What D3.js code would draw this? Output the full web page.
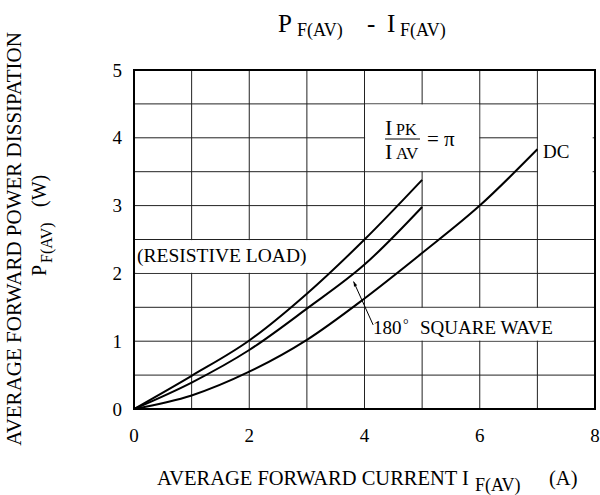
<!DOCTYPE html>
<html>
<head>
<meta charset="utf-8">
<script src="https://cdn.jsdelivr.net/npm/d3@7"></script>
<style>
  body { margin: 0; background: #fff; }
  text { font-family: "Liberation Serif", "Times New Roman", serif; fill: #000; }
</style>
</head>
<body>
<div id="chart"></div>
<script>
var currentPK = [0, 1, 2, 3, 4, 5];          // I_PK / I_AV = pi
var powerPK   = [0, 0.49, 1.01, 1.70, 2.50, 3.38];
var currentSQ = [0, 1, 2, 3, 4, 5];          // 180 deg square wave
var powerSQ   = [0, 0.39, 0.87, 1.48, 2.13, 2.98];
var currentDC = [0, 1, 2, 3, 4, 5, 6, 7];    // DC
var powerDC   = [0, 0.20, 0.55, 1.02, 1.63, 2.30, 3.00, 3.83];

var xTicks = [0, 2, 4, 6, 8];
var yTicks = [0, 1, 2, 3, 4, 5];

var width = 600, height = 495;

var x = d3.scaleLinear([0, 8], [134, 595]);
var y = d3.scaleLinear([0, 5], [409, 70]);

var svg = d3.select("#chart").append("svg")
    .attr("width", width)
    .attr("height", height);

// grille
svg.append("g")
  .selectAll("line")
  .data(d3.range(1, 8))
  .enter().append("line")
    .attr("x1", d => x(d)).attr("x2", d => x(d))
    .attr("y1", y(0)).attr("y2", y(5))
    .attr("stroke", "#222").attr("stroke-width", 1);

svg.append("g")
  .selectAll("line")
  .data(d3.range(0.5, 5, 0.5))
  .enter().append("line")
    .attr("x1", x(0)).attr("x2", x(8))
    .attr("y1", d => y(d)).attr("y2", d => y(d))
    .attr("stroke", "#222").attr("stroke-width", 1);

// zones blanches derriere les textes (coins en unites du graphe)
var boxes = [
  [0.03, 2.0, 4.0, 2.5],   // (RESISTIVE LOAD)
  [4.0, 3.5, 6.0, 4.5],    // I_PK / I_AV
  [7.0, 3.0, 7.97, 4.5],   // DC
  [4.0, 1.0, 7.97, 1.5]    // 180 SQUARE WAVE
];
svg.append("g")
  .selectAll("rect")
  .data(boxes)
  .enter().append("rect")
    .attr("x", d => x(d[0]) + 0.6)
    .attr("y", d => y(d[3]) + 0.6)
    .attr("width", d => x(d[2]) - x(d[0]) - 1.2)
    .attr("height", d => y(d[1]) - y(d[3]) - 1.2)
    .attr("fill", "#fff");

// cadre
svg.append("rect")
    .attr("x", x(0)).attr("y", y(5))
    .attr("width", x(8) - x(0)).attr("height", y(0) - y(5))
    .attr("fill", "none").attr("stroke", "#000").attr("stroke-width", 2);

// courbes
var line = d3.line()
    .x(d => x(d[0]))
    .y(d => y(d[1]))
    .curve(d3.curveMonotoneX);

[[currentPK, powerPK], [currentSQ, powerSQ], [currentDC, powerDC]].forEach(function(s) {
  svg.append("path")
    .datum(d3.zip(s[0], s[1]))
    .attr("d", line)
    .attr("fill", "none")
    .attr("stroke", "#000")
    .attr("stroke-width", 2);
});

// graduations
svg.append("g")
  .selectAll("text")
  .data(xTicks)
  .enter().append("text")
    .attr("x", d => x(d))
    .attr("y", 442)
    .attr("text-anchor", "middle")
    .style("font-size", "19px")
    .text(d => d);

svg.append("g")
  .selectAll("text")
  .data(yTicks)
  .enter().append("text")
    .attr("x", 122)
    .attr("y", d => y(d) + 6.5)
    .attr("text-anchor", "end")
    .style("font-size", "19px")
    .text(d => d);

// titre
var title = svg.append("text").attr("y", 32);
title.append("tspan").attr("x", 278).style("font-size", "25px").text("P");
title.append("tspan").attr("x", 297).attr("dy", 4).style("font-size", "18px").text("F(AV)");
title.append("tspan").attr("x", 367).attr("dy", -4).style("font-size", "25px").text("-");
title.append("tspan").attr("x", 387).style("font-size", "25px").text("I");
title.append("tspan").attr("x", 400).attr("dy", 4).style("font-size", "18px").text("F(AV)");

// titre axe x
var xt = svg.append("text").attr("x", 157).attr("y", 485).style("font-size", "20.5px");
xt.append("tspan").text("AVERAGE FORWARD CURRENT I");
xt.append("tspan").attr("dx", 6).attr("dy", 6).style("font-size", "18px").text("F(AV)");
xt.append("tspan").attr("x", 549).attr("dy", -6).text("(A)");

// titre axe y
svg.append("text")
    .attr("transform", "translate(21,239) rotate(-90)")
    .attr("text-anchor", "middle")
    .style("font-size", "21px")
    .text("AVERAGE FORWARD POWER DISSIPATION");

var yt = svg.append("text")
    .attr("transform", "translate(46,276) rotate(-90)")
    .style("font-size", "20px");
yt.append("tspan").attr("x", 0).text("P");
yt.append("tspan").attr("x", 13).attr("dy", 6).style("font-size", "16px").text("F(AV)");
yt.append("tspan").attr("x", 69).attr("dy", -6).text("(W)");

// annotations
svg.append("text")
    .attr("x", 137).attr("y", 262)
    .style("font-size", "19.5px")
    .text("(RESISTIVE LOAD)");

svg.append("text")
    .attr("x", 543).attr("y", 158)
    .style("font-size", "19px")
    .text("DC");

var num = svg.append("text").attr("y", 135);
num.append("tspan").attr("x", 385).style("font-size", "22px").text("I");
num.append("tspan").attr("x", 396).style("font-size", "16px").text("PK");
svg.append("line")
    .attr("x1", 385).attr("x2", 420)
    .attr("y1", 139).attr("y2", 139)
    .attr("stroke", "#000").attr("stroke-width", 1.2);
var den = svg.append("text").attr("y", 159);
den.append("tspan").attr("x", 385).style("font-size", "22px").text("I");
den.append("tspan").attr("x", 396).style("font-size", "17px").text("AV");
svg.append("text")
    .attr("x", 427).attr("y", 146)
    .style("font-size", "21px")
    .text("= \u03c0");

var sq = svg.append("text").attr("y", 334).style("font-size", "19px");
sq.append("tspan").attr("x", 373).text("180");
sq.append("tspan").attr("x", 403).attr("dy", -5).style("font-size", "14px").text("\u00b0");
sq.append("tspan").attr("x", 420).attr("dy", 5).text("SQUARE WAVE");

// fleche vers la courbe onde carree
svg.append("defs").append("marker")
    .attr("id", "arrow")
    .attr("viewBox", "0 0 10 10")
    .attr("refX", 10).attr("refY", 5)
    .attr("markerWidth", 7).attr("markerHeight", 5)
    .attr("orient", "auto")
  .append("path")
    .attr("d", "M0,1.5 L10,5 L0,8.5 Z")
    .attr("fill", "#000");

svg.append("line")
    .attr("x1", x(4.15)).attr("y1", y(1.24))
    .attr("x2", x(3.81)).attr("y2", y(1.88))
    .attr("stroke", "#000").attr("stroke-width", 1)
    .attr("marker-end", "url(#arrow)");
</script>
</body>
</html>
